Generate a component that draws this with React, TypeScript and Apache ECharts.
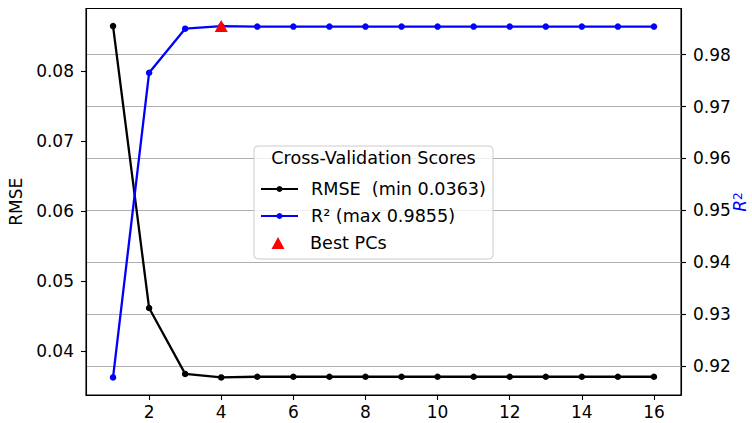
import React, { useEffect, useRef } from "react";
import * as echarts from "echarts";

const components = [1, 2, 3, 4, 5, 6, 7, 8, 9, 10, 11, 12, 13, 14, 15, 16];
const rmse = [0.0864, 0.0462, 0.0368, 0.0363, 0.0364, 0.0364, 0.0364, 0.0364, 0.0364, 0.0364, 0.0364, 0.0364, 0.0364, 0.0364, 0.0364, 0.0364];
const r2 = [0.9178, 0.9765, 0.985, 0.9855, 0.9854, 0.9854, 0.9854, 0.9854, 0.9854, 0.9854, 0.9854, 0.9854, 0.9854, 0.9854, 0.9854, 0.9854];
const bestPC = 4;
const bestR2 = 0.9855;
const xTicks = [2, 4, 6, 8, 10, 12, 14, 16];
const rmseTicks = [0.04, 0.05, 0.06, 0.07, 0.08];
const r2Ticks = [0.92, 0.93, 0.94, 0.95, 0.96, 0.97, 0.98];

const RMSE_NAME = "RMSE  (min 0.0363)";
const R2_NAME = "R² (max 0.9855)";
const BEST_NAME = "Best PCs";
const FONT = "DejaVu Sans";

function pad(arr: number[]) {
  const lo = Math.min(...arr);
  const hi = Math.max(...arr);
  const m = (hi - lo) * 0.05;
  return [lo - m, hi + m];
}

export default function App() {
  const ref = useRef<HTMLDivElement>(null);
  useEffect(() => {
    document.body.style.margin = "0";
    const chart = echarts.init(ref.current!, null, { renderer: "svg" });
    const [lmin, lmax] = pad(rmse);
    const [rmin, rmax] = pad(r2);
    const axisBase = {
      axisLine: { show: true, lineStyle: { color: "#000", width: 1.1 } },
      axisTick: { show: true, length: 5, lineStyle: { color: "#000", width: 1.1 } },
    };
    const labelBase = { fontSize: 17, color: "#000", fontFamily: FONT };
    const legendText = { fontSize: 17.6, color: "#000", fontFamily: FONT };
    chart.setOption({
      animation: false,
      backgroundColor: "#fff",
      textStyle: { fontFamily: FONT },
      grid: {
        left: 86,
        right: 71,
        top: 8.5,
        bottom: 28,
        containLabel: false,
        outerBoundsMode: "none",
        show: true,
        borderColor: "#000",
        borderWidth: 1.1,
        backgroundColor: "transparent",
      },
      xAxis: {
        type: "value",
        min: 0.25,
        max: 16.75,
        ...axisBase,
        axisTick: { ...axisBase.axisTick, customValues: xTicks },
        axisLabel: { ...labelBase, margin: 8, customValues: xTicks },
        splitLine: { show: false },
      },
      yAxis: [
        {
          type: "value",
          position: "left",
          min: lmin,
          max: lmax,
          ...axisBase,
          axisTick: { ...axisBase.axisTick, customValues: rmseTicks },
          axisLabel: { ...labelBase, margin: 12, customValues: rmseTicks, formatter: (v: number) => v.toFixed(2) },
          splitLine: { show: false },
          name: "RMSE",
          nameLocation: "middle",
          nameRotate: 90,
          nameGap: 62,
          nameTextStyle: { ...labelBase },
        },
        {
          type: "value",
          position: "right",
          min: rmin,
          max: rmax,
          ...axisBase,
          axisTick: { ...axisBase.axisTick, customValues: r2Ticks },
          axisLabel: { ...labelBase, margin: 12, customValues: r2Ticks, formatter: (v: number) => v.toFixed(2) },
          splitLine: { show: true, lineStyle: { color: "#b0b0b0", width: 1.1 } },
        },
      ],
      legend: [
        {
          data: [RMSE_NAME, R2_NAME],
          orient: "vertical",
          left: 260,
          top: 179,
          padding: 0,
          itemWidth: 37,
          itemHeight: 7.5,
          itemGap: 7,
          selectedMode: false,
          textStyle: { ...legendText, lineHeight: 20, padding: [0, 0, 0, 8] },
        },
        {
          data: [BEST_NAME],
          orient: "vertical",
          left: 271.5,
          top: 233,
          padding: 0,
          itemWidth: 13,
          itemHeight: 12,
          selectedMode: false,
          textStyle: { ...legendText, lineHeight: 20, padding: [0, 0, 0, 20.5] },
        },
      ],
      graphic: [
        {
          type: "rect",
          z: 3,
          shape: { x: 254, y: 146, width: 239, height: 113, r: 4 },
          style: { fill: "rgba(255,255,255,0.8)", stroke: "#cccccc", lineWidth: 1 },
        },
        {
          type: "text",
          z: 3,
          x: 373.5,
          y: 158,
          style: {
            text: "Cross-Validation Scores",
            fontSize: 17.6,
            fontFamily: FONT,
            fill: "#000",
            align: "center",
            verticalAlign: "middle",
          },
        },
        {
          type: "text",
          z: 3,
          x: 740,
          y: 202,
          rotation: Math.PI / 2,
          style: {
            text: "{i|R}{s|2}",
            fontFamily: FONT,
            fill: "#0000ff",
            align: "center",
            verticalAlign: "middle",
            rich: {
              i: { fontSize: 17, fontStyle: "italic", fill: "#0000ff", fontFamily: FONT },
              s: { fontSize: 12, verticalAlign: "top", fill: "#0000ff", fontFamily: FONT },
            },
          },
        },
      ],
      series: [
        {
          name: RMSE_NAME,
          type: "line",
          yAxisIndex: 0,
          data: components.map((c, i) => [c, rmse[i]]),
          color: "#000",
          lineStyle: { color: "#000", width: 2.3 },
          itemStyle: { color: "#000" },
          symbol: "circle",
          symbolSize: 6.5,
          showSymbol: true,
        },
        {
          name: R2_NAME,
          type: "line",
          yAxisIndex: 1,
          data: components.map((c, i) => [c, r2[i]]),
          color: "#0000ff",
          lineStyle: { color: "#0000ff", width: 2.3 },
          itemStyle: { color: "#0000ff" },
          symbol: "circle",
          symbolSize: 6.5,
          showSymbol: true,
        },
        {
          name: BEST_NAME,
          type: "scatter",
          yAxisIndex: 1,
          data: [[bestPC, bestR2]],
          color: "#ff0000",
          itemStyle: { color: "#ff0000", opacity: 1 },
          symbol: "triangle",
          symbolSize: [13, 12],
          z: 5,
        },
      ],
    });
    return () => chart.dispose();
  }, []);
  return <div ref={ref} style={{ position: "fixed", left: 0, top: 0, width: 752, height: 423 }} />;
}
